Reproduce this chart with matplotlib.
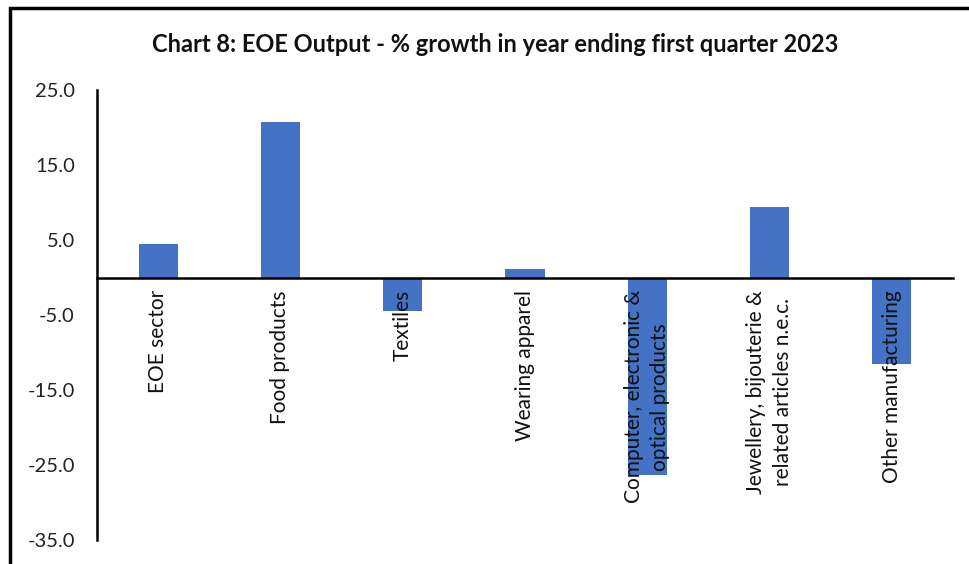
import matplotlib
matplotlib.use("Agg")
import matplotlib.pyplot as plt
from matplotlib.patches import Rectangle

plt.rcParams['font.family'] = ['Lato', 'DejaVu Sans']

# data
categories = [
    "EOE sector",
    "Food products",
    "Textiles",
    "Wearing apparel",
    "Computer, electronic &\noptical products",
    "Jewellery, bijouterie &\nrelated articles n.e.c.",
    "Other manufacturing",
]
growth = [4.5, 20.8, -4.4, 1.2, -26.3, 9.4, -11.5]
y_ticks = [-35, -25, -15, -5, 5, 15, 25]

fig = plt.figure(figsize=(9.69, 5.64), dpi=100)
ax = fig.add_axes([97 / 969, 1 - 540 / 564, (953 - 97) / 969, (540 - 90) / 564])

# spines first: moving a spine resets the tick labels
for s in ["top", "right"]:
    ax.spines[s].set_visible(False)
ax.spines["bottom"].set_position(("data", 0))
ax.spines["bottom"].set_linewidth(1.8)
ax.spines["left"].set_linewidth(1.8)
ax.spines["bottom"].set_zorder(3)

x = list(range(len(categories)))
ax.bar(x, growth, width=0.32, color="#4472C4", zorder=1)
ax.xaxis.set_zorder(4)  # category labels sit on top of the bars

ax.set_xlim(-0.5, len(categories) - 0.5)
ax.set_ylim(-35, 25)
ax.set_yticks(y_ticks)
ax.set_yticklabels([f"{v:.1f}" for v in y_ticks], fontsize=14.5, color="#222222")
ax.tick_params(axis="y", length=0, pad=16)

ax.set_xticks(x)
ax.tick_params(axis="x", length=0, pad=9)
ax.set_xticklabels(categories, rotation=90, fontsize=15, color="#111111",
                   va="top", ha="center", multialignment="center", linespacing=1.4)

fig.text(495 / 969, 1 - 45 / 564, "Chart 8: EOE Output - % growth in year ending first quarter 2023",
         ha="center", va="center", fontsize=17, fontweight="bold", color="#111111")

# outer chart border (only top and left edges fall inside the picture)
fig.patches.append(Rectangle((10 / 969, -0.1), 1.2, 1.1 - 8 / 564, transform=fig.transFigure,
                             fill=False, edgecolor="black", linewidth=2.5))

fig.savefig("out.png", dpi=100)
